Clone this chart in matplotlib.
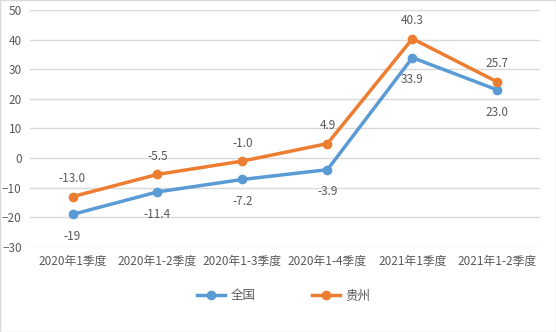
import numpy as np
import matplotlib.pyplot as plt

plt.rcParams['font.family'] = ['Noto Sans CJK SC', 'DejaVu Sans']

# 数据
categorias = ['2020年1季度', '2020年1-2季度', '2020年1-3季度', '2020年1-4季度', '2021年1季度', '2021年1-2季度']
quanguo = [-19, -11.4, -7.2, -3.9, 33.9, 23.0]
guizhou = [-13.0, -5.5, -1.0, 4.9, 40.3, 25.7]
rotulos_qg = ['-19', '-11.4', '-7.2', '-3.9', '33.9', '23.0']
rotulos_gz = ['-13.0', '-5.5', '-1.0', '4.9', '40.3', '25.7']

azul = '#5B9BD5'
laranja = '#ED7D31'
cinza = '#595959'

fig = plt.figure(figsize=(5.56, 3.32), dpi=100)
ax = fig.add_axes([0.054, 0.256, 0.917, 0.714])

x = np.arange(len(categorias))
ax.plot(x, quanguo, color=azul, lw=2.5, marker='o', ms=6, label='全国', zorder=3)
ax.plot(x, guizhou, color=laranja, lw=2.5, marker='o', ms=6, label='贵州', zorder=3)

# rotulos dos pontos
for xi, v, t in zip(x, quanguo, rotulos_qg):
    ax.annotate(t, (xi, v), xytext=(0, -16), textcoords='offset points',
                ha='center', va='center', fontsize=8.5, color=cinza)
for xi, v, t in zip(x, guizhou, rotulos_gz):
    ax.annotate(t, (xi, v), xytext=(0, 13), textcoords='offset points',
                ha='center', va='center', fontsize=8.5, color=cinza)

ax.set_xlim(-0.5, len(categorias) - 0.5)
ax.set_ylim(-30, 50)
ax.set_yticks(range(-30, 51, 10))
ax.set_xticks(x)
ax.set_xticklabels(categorias)
ax.grid(axis='y', color='#D9D9D9', lw=1)
ax.set_axisbelow(True)
for s in ax.spines.values():
    s.set_visible(False)
ax.tick_params(length=0, labelsize=8.5, colors=cinza, pad=6)

fig.legend(loc='lower center', bbox_to_anchor=(0.51, 0.055), ncol=2, frameon=False,
           fontsize=9, labelcolor=cinza, columnspacing=4.5, handlelength=2.3,
           handletextpad=0.4)

fig.patches.append(plt.Rectangle((0, 0), 1, 1, transform=fig.transFigure,
                                 fill=False, edgecolor='#D9D9D9', lw=1))

fig.savefig('out.png', dpi=100)
